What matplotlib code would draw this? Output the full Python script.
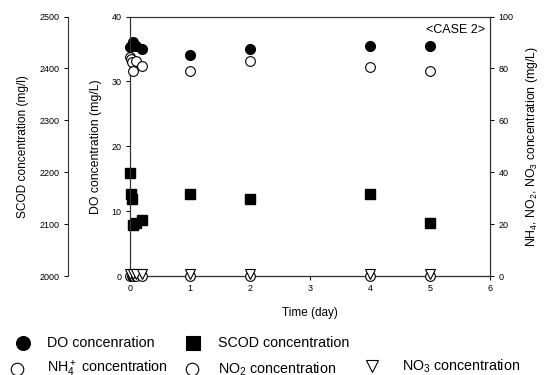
import matplotlib.pyplot as plt
from matplotlib.lines import Line2D

plt.rcParams['font.family'] = ['Liberation Sans', 'DejaVu Sans']
plt.rcParams['mathtext.fontset'] = 'custom'
plt.rcParams['mathtext.rm'] = 'Liberation Sans'
plt.rcParams['mathtext.it'] = 'Liberation Sans:italic'
plt.rcParams['mathtext.default'] = 'regular'

# DO (mg/L), left inner axis
do_t = [0, 0.03, 0.05, 0.1, 0.2, 1, 2, 4, 5]
do_v = [35.3, 35.6, 36.0, 35.5, 35.0, 34.1, 35.0, 35.4, 35.4]

# SCOD (mg/l), left outer axis
scod_t = [0, 0.02, 0.03, 0.05, 0.1, 0.2, 1, 2, 4, 5]
scod_v = [2198, 2158, 2148, 2099, 2102, 2108, 2158, 2148, 2158, 2102]

# NH4+, NO2, NO3 (mg/L), right axis
nh4_t = [0, 0.02, 0.03, 0.05, 0.1, 0.2, 1, 2, 4, 5]
nh4_v = [84.5, 83.5, 82.5, 79.0, 83.0, 81.0, 79.0, 83.0, 80.5, 79.0]
no2_t = [0, 0.03, 0.05, 0.1, 0.2, 1, 2, 4, 5]
no2_v = [0, 0, 0, 0, 0, 0, 0, 0, 0]
no3_t = [0, 0.05, 0.1, 0.2, 1, 2, 4, 5]
no3_v = [0.8, 0.8, 0.8, 0.8, 0.8, 0.8, 0.8, 0.8]

W, H = 547, 375
fig = plt.figure(figsize=(W / 100, H / 100), dpi=100)
ax = fig.add_axes([130 / W, 1 - 276 / H, 360 / W, 259.5 / H])

ms = 7
ax.plot(do_t, do_v, 'o', color='black', ms=ms, clip_on=False, zorder=5)
ax.set_xlim(0, 6)
ax.set_ylim(0, 40)
ax.set_xticks(range(7))
ax.set_yticks([0, 10, 20, 30, 40])
ax.set_xlabel('Time (day)', fontsize=8.5, labelpad=10)
ax.set_ylabel('DO concentration (mg/L)', fontsize=8.8, labelpad=7)

ax_s = ax.twinx()
ax_s.spines['left'].set_position(('outward', 45))
ax_s.spines['left'].set_visible(True)
ax_s.spines['right'].set_visible(False)
ax_s.spines['top'].set_visible(False)
ax_s.yaxis.set_label_position('left')
ax_s.yaxis.set_ticks_position('left')
ax_s.plot(scod_t, scod_v, 's', color='black', ms=ms, clip_on=False, zorder=5)
ax_s.set_ylim(2000, 2500)
ax_s.set_yticks([2000, 2100, 2200, 2300, 2400, 2500])
ax_s.set_ylabel('SCOD concentration (mg/l)', fontsize=8.6, labelpad=7)

ax_r = ax.twinx()
ax_r.plot(nh4_t, nh4_v, 'o', mfc='white', mec='black', mew=0.8, ms=ms, clip_on=False, zorder=5)
ax_r.plot(no2_t, no2_v, 'o', mfc='white', mec='black', mew=0.8, ms=ms, clip_on=False, zorder=4)
ax_r.plot(no3_t, no3_v, 'v', mfc='white', mec='black', mew=0.8, ms=ms, clip_on=False, zorder=6)
ax_r.set_ylim(0, 100)
ax_r.set_yticks([0, 20, 40, 60, 80, 100])
ax_r.set_ylabel(r'NH$_4$, NO$_2$, NO$_3$ concentration (mg/L)', fontsize=8.8, labelpad=8)
ax_r.text(0.985, 0.97, '<CASE 2>', transform=ax_r.transAxes, ha='right', va='top', fontsize=9)

for a in (ax, ax_s, ax_r):
    a.tick_params(direction='out', length=3, width=0.7, labelsize=6.5, pad=3)
    for s in a.spines.values():
        s.set_linewidth(0.8)
        s.set_color('#333333')

# legend drawn by hand (two uneven rows)
legend_items = [
    (23, 343, 'o', 'black', 'DO concenration', 47),
    (193, 343, 's', 'black', 'SCOD concentration', 218),
    (17, 369, 'o', 'white', r'NH$_4^+$ concentration', 47),
    (192, 369, 'o', 'white', r'NO$_2$ concentration', 218),
    (372, 366, 'v', 'white', r'NO$_3$ concentration', 402),
]
for mx, my, mk, fc, label, tx in legend_items:
    fig.add_artist(Line2D([mx / W], [1 - my / H], marker=mk, ms=10 if fc == 'black' else 9,
                          mfc=fc, mec='black', mew=0.8, linestyle='none',
                          transform=fig.transFigure))
    fig.text(tx / W, 1 - my / H, label, fontsize=10.3, va='center', ha='left')

fig.savefig('out.png', dpi=100)
